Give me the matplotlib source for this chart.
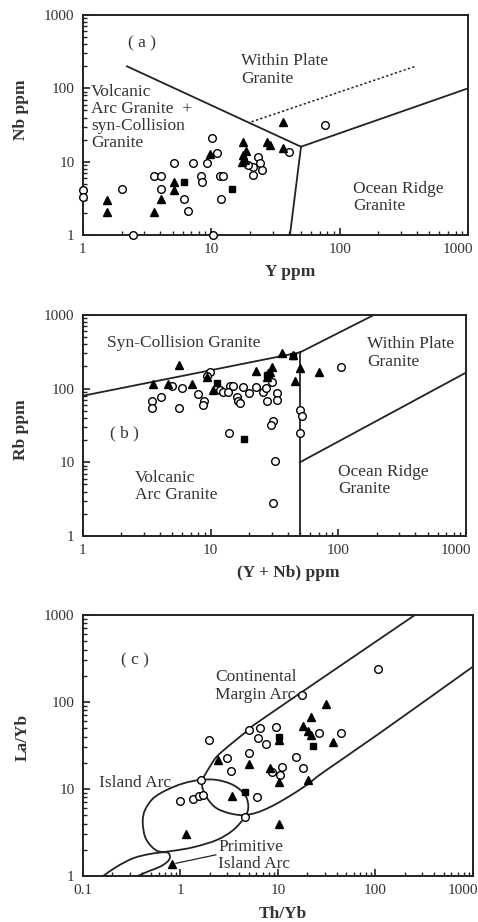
import numpy as np
import matplotlib
matplotlib.use("Agg")
import matplotlib.pyplot as plt
from matplotlib.path import Path
from matplotlib.patches import PathPatch
from matplotlib.ticker import LogLocator, NullFormatter
from matplotlib.transforms import ScaledTranslation

plt.rcParams['font.family'] = ['Liberation Serif', 'DejaVu Serif']

# ---------------- data ----------------
# (a) Nb vs Y
a_circle_y = [1.0, 1.0, 2.0, 2.45, 3.55, 4.05, 4.05, 5.15, 6.1, 6.6, 7.2, 8.3, 8.4, 9.2,
              10.2, 11.1, 11.7, 12.4, 12.0, 10.3, 23.2, 24.0, 21.2, 24.7, 21.2, 40.0, 77.0, 19.3]
a_circle_nb = [4.1, 3.3, 4.2, 1.0, 6.4, 6.4, 4.2, 9.7, 3.1, 2.15, 9.7, 6.4, 5.3, 9.7,
               21, 13, 6.4, 6.4, 3.1, 1.0, 11.7, 9.5, 8.5, 7.7, 6.6, 13.7, 31.6, 9.0]
a_tri_y = [1.53, 1.53, 3.57, 4.05, 5.15, 5.15, 9.8, 17.7, 27.0, 28.7, 36.0, 36.4, 17.7, 18.3, 17.2, 18.6]
a_tri_nb = [3.0, 2.08, 2.08, 3.07, 5.3, 4.1, 12.6, 18.7, 18.7, 16.9, 15.5, 35.0, 12.3, 10.5, 10.0, 14.0]
a_sq_y = [6.15, 14.5]
a_sq_nb = [5.3, 4.2]

a_wpg_y, a_wpg_nb = [2.2, 50], [200, 16]
a_org_y, a_org_nb = [50, 1000], [16, 100]
a_vag_y, a_vag_nb = [50, 41], [16, 1]
a_dash_y, a_dash_nb = [20.6, 390], [35, 200]

# (b) Rb vs Y+Nb
b_circle_ynb = [5.0, 6.0, 4.1, 3.5, 3.45, 5.7, 8.0, 8.9, 8.7, 9.9, 9.4, 11.8, 12.4, 14.2, 15.0,
                13.7, 16, 16.5, 17, 18, 20, 22.6, 25.8, 27, 27.5, 33, 33, 31, 29.5, 13.9,
                104, 50, 52, 50.5, 32, 30.6, 30]
b_circle_rb = [110, 101, 78, 68, 54, 55, 85, 67, 60, 170, 149, 96, 91, 110, 110,
               91, 78, 67, 63, 104, 86, 106, 89, 101, 67, 86, 70, 36, 32, 25,
               194, 51, 43, 25, 10.4, 2.8, 124]
b_tri_ynb = [3.55, 4.6, 5.7, 7.1, 9.3, 10.5, 22.6, 28.3, 30, 27.5, 29, 36, 44.4, 50, 45.8, 71]
b_tri_rb = [114, 114, 207, 114, 143, 96, 175, 162, 199, 145, 170, 308, 286, 189, 128, 170]
b_sq_ynb = [11.3, 18.3, 44, 27.5]
b_sq_rb = [120, 20.7, 278, 152]

b_syn_x, b_syn_rb = [1, 50], [80, 310]
b_wpg_x, b_wpg_rb = [50, 190], [310, 1000]
b_vert_x, b_vert_rb = [50, 50], [310, 1]
b_org_x, b_org_rb = [50, 1000], [10, 165]

# (c) La/Yb vs Th/Yb
c_circle_th = [107, 17.5, 1.97, 5.0, 6.5, 9.5, 6.3, 7.5, 5.0, 26.5, 44, 3.0, 3.3, 15.3, 10.9,
               8.6, 10.5, 17.9, 1.0, 1.33, 1.56, 1.69, 6.1, 4.6, 1.62]
c_circle_la = [240, 120, 37, 48, 50, 51, 39, 33, 26, 44, 44, 22.5, 16, 23.5, 18,
               15.6, 14.5, 17.6, 7.3, 7.6, 8.2, 8.5, 8.0, 4.8, 12.7]
c_tri_th = [31, 21.8, 17.9, 20.5, 22, 37, 10.2, 5.0, 8.2, 10.2, 20.5, 3.35, 10.2, 1.14, 0.81, 2.45]
c_tri_la = [95, 67, 53, 46, 42, 35, 37, 19.4, 17.3, 12.1, 12.7, 8.2, 4.0, 3.0, 1.37, 21.5]
c_sq_th = [10.2, 23, 4.6]
c_sq_la = [40, 31, 9.2]

# field outlines (vertices)
c_cma_th = [254, 40, 5.6, 5.0, 3.2, 2.35, 2.0, 1.78, 1.65, 1.71, 1.93, 2.35, 3.2, 4.4, 6.05,
            8.3, 11.8, 19.7, 29, 111, 1000]
c_cma_la = [1000, 244, 54, 48, 32, 23.5, 18, 14.5, 12.1, 9.7, 7.5, 6.0, 5.25, 5.0, 5.35,
            6.2, 7.7, 11.1, 15.5, 44, 255]
c_ia_th = [0.41, 0.433, 0.526, 0.721, 1.07, 1.585, 2.35, 3.48, 4.59, 4.96, 4.59, 3.48, 2.35,
           1.35, 0.843, 0.617, 0.507, 0.433]
c_ia_la = [4.21, 5.74, 7.82, 9.74, 11.6, 12.7, 12.7, 11.1, 8.53, 6.26, 4.81, 3.38, 2.59,
           2.14, 1.95, 1.9, 2.17, 2.83]
c_pia_th = [0.161, 0.222, 0.328, 0.486, 0.72, 0.78, 0.73, 0.617, 0.486, 0.385, 0.33]
c_pia_la = [1.0, 1.28, 1.6, 1.79, 1.87, 1.65, 1.45, 1.28, 1.15, 1.03, 0.95]
c_lead_th, c_lead_la = [2.3, 0.9], [1.75, 1.4]

ticks_1 = [1, 10, 100, 1000]
ticks_1_labels = ['1', '10', '100', '1000']
ticks_01 = [0.1, 1, 10, 100, 1000]
ticks_01_labels = ['0.1', '1', '10', '100', '1000']

LINE = '#222222'
TXT = '#333333'
REGION_FS = 12.5


def setup_axes(ax, xlim, xticks, xlabels):
    ax.set_xscale('log')
    ax.set_yscale('log')
    ax.set_xlim(xlim)
    ax.set_ylim(1, 1000)
    ax.set_xticks(xticks)
    ax.set_xticklabels(xlabels)
    ax.set_yticks(ticks_1)
    ax.set_yticklabels(ticks_1_labels)
    for axis in (ax.xaxis, ax.yaxis):
        axis.set_minor_locator(LogLocator(base=10, subs=range(2, 10), numticks=20))
        axis.set_minor_formatter(NullFormatter())
    ax.tick_params(which='both', direction='in', top=False, right=False, colors=LINE)
    ax.tick_params(which='major', length=5, width=1.2, labelsize=11, labelcolor=TXT, pad=6)
    ax.tick_params(which='minor', length=3, width=1.0)
    for s in ax.spines.values():
        s.set_linewidth(1.4)
        s.set_color(LINE)
    # last label "1000" sits a bit inside, as in the printed figure
    last = ax.get_xticklabels()[-1]
    last.set_transform(last.get_transform() + ScaledTranslation(-7 / 72, 0, fig.dpi_scale_trans))


def smooth_curve(ax, xs, ys, closed=False, lw=1.3):
    """Smooth outline through the vertices (Catmull-Rom in log space)."""
    pts = np.column_stack([np.log10(xs), np.log10(ys)])
    if closed:
        pts = np.vstack([pts, pts[:1]])
    n = len(pts)
    verts = [pts[0]]
    codes = [Path.MOVETO]
    for i in range(n - 1):
        if i > 0:
            p0 = pts[i - 1]
        else:
            p0 = pts[-2] if closed else pts[0]
        if i + 2 < n:
            p3 = pts[i + 2]
        else:
            p3 = pts[1] if closed else pts[i + 1]
        p1, p2 = pts[i], pts[i + 1]
        verts += [p1 + (p2 - p0) / 6, p2 - (p3 - p1) / 6, p2]
        codes += [Path.CURVE4] * 3
    verts = 10 ** np.array(verts)
    ax.add_patch(PathPatch(Path(verts, codes), fill=False, ec=LINE, lw=lw))


def draw_points(ax, cx, cy, tx, ty, sx, sy):
    ax.plot(cx, cy, 'o', ms=5.5, mfc='white', mec='black', mew=1.0, ls='none', clip_on=False, zorder=3)
    ax.plot(tx, ty, '^', ms=6.0, mfc='black', mec='black', ls='none', clip_on=False, zorder=4)
    ax.plot(sx, sy, 's', ms=5.0, mfc='black', mec='black', ls='none', clip_on=False, zorder=4)


def region(ax, x, y, s, ha='left'):
    ax.text(x, y, s, fontsize=REGION_FS, color=TXT, ha=ha, va='center', linespacing=1.1)


fig = plt.figure(figsize=(4.78, 9.22), dpi=100)

# ---------- (a) ----------
ax1 = fig.add_axes([0.1736, 0.7451, 0.8054, 0.2386])
setup_axes(ax1, (1, 1000), ticks_1, ticks_1_labels)
for xs, ys in [(a_wpg_y, a_wpg_nb), (a_org_y, a_org_nb), (a_vag_y, a_vag_nb)]:
    ax1.plot(xs, ys, color=LINE, lw=1.3)
ax1.plot(a_dash_y, a_dash_nb, color=LINE, lw=1.1, ls=(0, (1.5, 1.5)))
draw_points(ax1, a_circle_y, a_circle_nb, a_tri_y, a_tri_nb, a_sq_y, a_sq_nb)
region(ax1, 2.9, 415, '( a )', ha='center')
region(ax1, 17, 178, 'Within Plate\nGranite')
region(ax1, 1.15, 40, 'Volcanic\nArc Granite  +\nsyn-Collision\nGranite')
region(ax1, 127, 3.25, 'Ocean Ridge\nGranite')
ax1.set_xlabel('Y ppm', fontsize=12.5, fontweight='bold', color=TXT)
ax1.set_ylabel('Nb ppm', fontsize=12.5, fontweight='bold', color=TXT)
ax1.xaxis.set_label_coords(0.538, -0.13)
ax1.yaxis.set_label_coords(-0.14, 0.57)

# ---------- (b) ----------
ax2 = fig.add_axes([0.1736, 0.4187, 0.8013, 0.2397])
setup_axes(ax2, (1, 1000), ticks_1, ticks_1_labels)
for xs, ys in [(b_syn_x, b_syn_rb), (b_wpg_x, b_wpg_rb), (b_vert_x, b_vert_rb), (b_org_x, b_org_rb)]:
    ax2.plot(xs, ys, color=LINE, lw=1.3)
draw_points(ax2, b_circle_ynb, b_circle_rb, b_tri_ynb, b_tri_rb, b_sq_ynb, b_sq_rb)
region(ax2, 1.54, 420, 'Syn-Collision Granite')
region(ax2, 168, 305, 'Within Plate\nGranite')
region(ax2, 2.1, 25, '( b )', ha='center')
region(ax2, 2.55, 4.7, 'Volcanic\nArc Granite')
region(ax2, 99, 5.7, 'Ocean Ridge\nGranite')
ax2.set_xlabel('(Y + Nb) ppm', fontsize=12.5, fontweight='bold', color=TXT)
ax2.set_ylabel('Rb ppm', fontsize=12.5, fontweight='bold', color=TXT)
ax2.xaxis.set_label_coords(0.535, -0.13)
ax2.yaxis.set_label_coords(-0.14, 0.48)

# ---------- (c) ----------
ax3 = fig.add_axes([0.1736, 0.0499, 0.8159, 0.2831])
setup_axes(ax3, (0.1, 1000), ticks_01, ticks_01_labels)
smooth_curve(ax3, c_cma_th, c_cma_la)
smooth_curve(ax3, c_ia_th, c_ia_la, closed=True)
smooth_curve(ax3, c_pia_th, c_pia_la)
ax3.plot(c_lead_th, c_lead_la, color=LINE, lw=0.9)
draw_points(ax3, c_circle_th, c_circle_la, c_tri_th, c_tri_la, c_sq_th, c_sq_la)
region(ax3, 0.34, 300, '( c )', ha='center')
region(ax3, 2.26, 153, 'Continental\nMargin Arc')
region(ax3, 0.146, 11.7, 'Island Arc')
region(ax3, 2.43, 1.72, 'Primitive\nIsland Arc')
ax3.set_xlabel('Th/Yb', fontsize=12.5, fontweight='bold', color=TXT)
ax3.set_ylabel('La/Yb', fontsize=12.5, fontweight='bold', color=TXT)
ax3.xaxis.set_label_coords(0.513, -0.115)
ax3.yaxis.set_label_coords(-0.135, 0.53)

fig.savefig('out.png', dpi=100)
